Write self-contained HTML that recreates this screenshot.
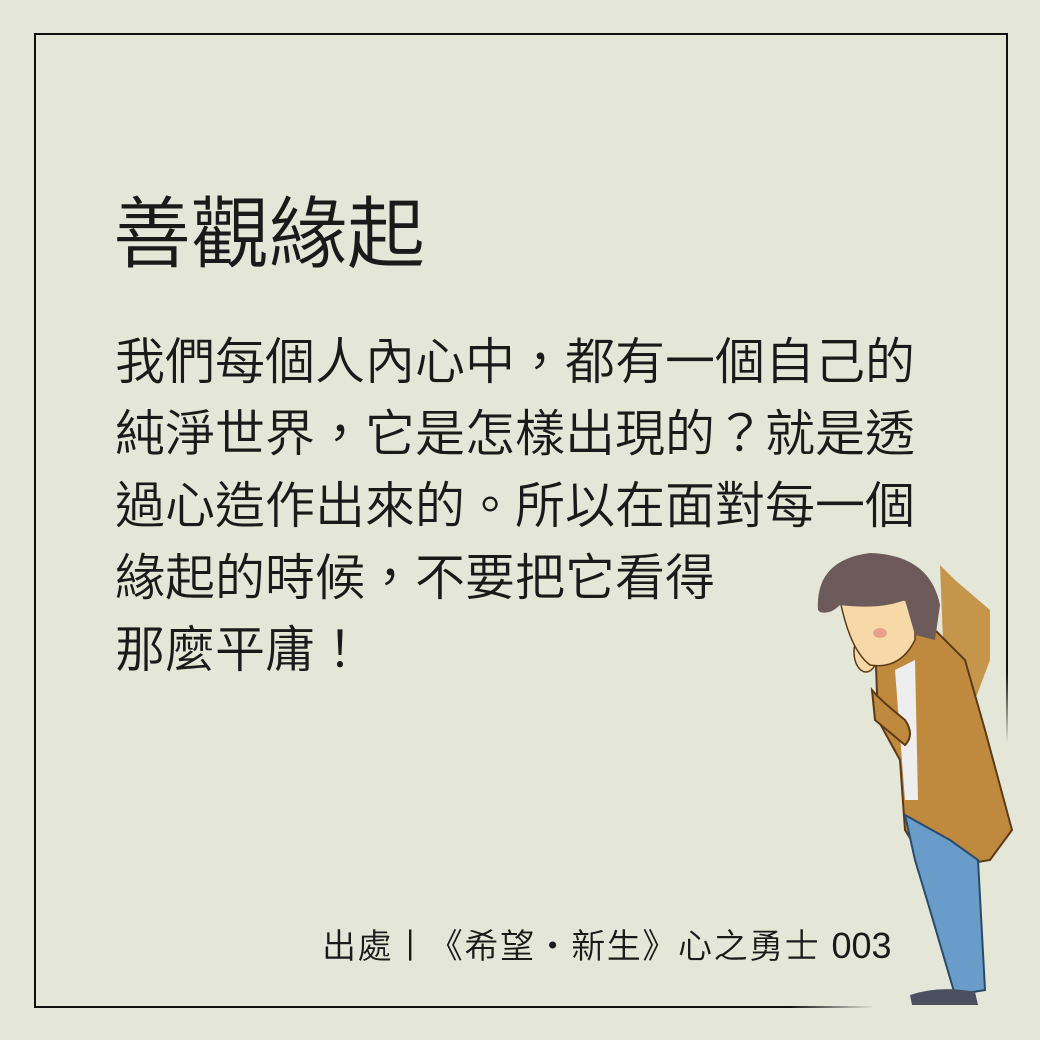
<!DOCTYPE html>
<html><head><meta charset="utf-8">
<style>
html,body{margin:0;padding:0}
body{width:1040px;height:1040px;position:relative;overflow:hidden;background:#e4e7d7;font-family:"Liberation Sans","Noto Sans CJK TC",sans-serif;color:#1a1a1a}
.t{position:absolute;white-space:nowrap;font-weight:350}
</style></head><body>
<svg width="1040" height="1040" style="position:absolute;left:0;top:0">
<defs>
<linearGradient id="gb" x1="0" x2="1" y1="0" y2="0"><stop offset="0.9" stop-color="#111"/><stop offset="1" stop-color="#111" stop-opacity="0"/></linearGradient>
<linearGradient id="gr" x1="0" x2="0" y1="0" y2="1"><stop offset="0.9" stop-color="#111"/><stop offset="1" stop-color="#111" stop-opacity="0"/></linearGradient>
</defs>
<line x1="35" y1="34" x2="1007" y2="34" stroke="#111" stroke-width="2"/>
<line x1="35" y1="33" x2="35" y2="1007" stroke="#111" stroke-width="2"/>
<rect x="34" y="1006" width="840" height="2" fill="url(#gb)"/>
<rect x="1006" y="33" width="2" height="710" fill="url(#gr)"/>
</svg>
<div class="t" style="left:113px;top:184px;font-size:78px;line-height:100px">善觀緣起</div>
<div class="t" style="left:115px;top:326px;font-size:50px;line-height:72px">我們每個人內心中，都有一個自己的<br>純淨世界，它是怎樣出現的？就是透<br>過心造作出來的。所以在面對每一個<br>緣起的時候，不要把它看得<br>那麼平庸！</div>
<div class="t" style="left:322px;top:924px;font-size:34px;line-height:44px;letter-spacing:1.6px">出處丨《希望・新生》心之勇士 <span style="font-size:36px;letter-spacing:0">003</span></div>
<svg width="1040" height="1040" style="position:absolute;left:0;top:0">
<path d="M940 565 L955 580 L990 610 L990 660 L975 700 L945 690 Z" fill="#c4954a"/>
<path d="M875 640 L930 625 L965 660 L985 730 L1012 830 L990 860 L930 870 L905 830 L900 760 L878 720 Z" fill="#c08a3e" stroke="#5a3a18" stroke-width="2"/>
<path d="M895 670 L915 660 L918 800 L905 800 Z" fill="#eeeeee"/>
<path d="M905 815 L950 840 L978 860 L985 990 L955 995 L930 910 L915 860 Z" fill="#6a9cc9" stroke="#2a4a6a" stroke-width="2"/>
<path d="M910 995 Q940 985 975 992 L978 1005 L912 1005 Z" fill="#4a5060"/>
<path d="M872 690 Q880 700 905 720 Q915 735 905 745 L875 720 Z" fill="#c08a3e" stroke="#5a3a18" stroke-width="2"/>
<ellipse cx="866" cy="652" rx="12" ry="20" fill="#f7d9a8" stroke="#5a3a18" stroke-width="1.5"/>
<path d="M840 600 Q850 650 870 665 Q900 670 915 640 L915 600 Z" fill="#f7d9a8" stroke="#5a3a18" stroke-width="1.5"/>
<path d="M818 610 Q815 560 870 553 Q930 555 940 605 L935 640 L915 635 L905 600 Q880 610 840 605 Q830 615 820 612 Z" fill="#6d5a5a"/>
<ellipse cx="880" cy="633" rx="7" ry="5" fill="#e8a08a"/>
</svg>
</body></html>
